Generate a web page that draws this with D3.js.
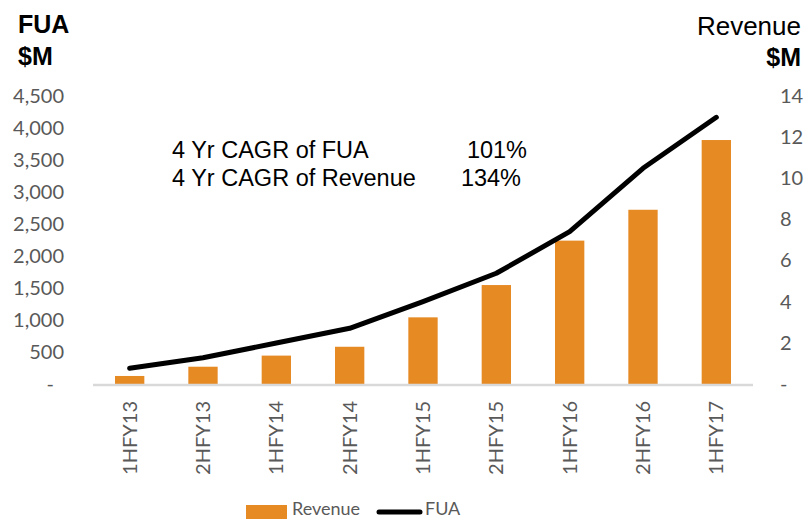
<!DOCTYPE html>
<html>
<head>
<meta charset="utf-8">
<script src="https://cdn.jsdelivr.net/npm/d3@7"></script>
<style>
  body { margin: 0; background: #fff; }
  svg { display: block; }
</style>
</head>
<body>
<div class="chart-container"></div>
<script>
// Half-year periods
const periods = ["1HFY13", "2HFY13", "1HFY14", "2HFY14", "1HFY15", "2HFY15", "1HFY16", "2HFY16", "1HFY17"];
// Revenue ($M, right axis) - bars
const revenue = [0.39, 0.84, 1.38, 1.81, 3.24, 4.81, 6.97, 8.47, 11.86];
// FUA ($M, left axis) - line
const fua = [245, 411, 640, 870, 1286, 1730, 2380, 3370, 4167];
// Axis ticks
const fuaTicks = [0, 500, 1000, 1500, 2000, 2500, 3000, 3500, 4000, 4500];
const revTicks = [0, 2, 4, 6, 8, 10, 12, 14];
// Annotation
const cagrLabels = ["4 Yr CAGR of FUA", "4 Yr CAGR of Revenue"];
const cagrValues = ["101%", "134%"];

const W = 807, H = 521;
const plot = { left: 93, right: 753, top: 96, bottom: 384 };
const orange = "#e68a24";
const tickColor = "#595959";
const tickFont = "Lato, 'Open Sans', sans-serif";

const svg = d3.select(".chart-container")
  .append("svg")
    .attr("width", W)
    .attr("height", H)
    .style("font-family", "'Liberation Sans', Arial, sans-serif");

const x = d3.scaleBand()
  .domain(periods)
  .range([plot.left, plot.right])
  .paddingInner(0.6)
  .paddingOuter(0.3);
const yL = d3.scaleLinear().domain([0, 4500]).range([plot.bottom, plot.top]);
const yR = d3.scaleLinear().domain([0, 14]).range([plot.bottom, plot.top]);

const fmtL = d => d === 0 ? "-" : d3.format(",")(d);
const fmtR = d => d === 0 ? "-" : d;

// left axis
const gL = svg.append("g")
  .attr("transform", `translate(${plot.left - 29},0)`)
  .call(d3.axisLeft(yL).tickValues(fuaTicks).tickSize(0).tickPadding(0).tickFormat(fmtL));
gL.select(".domain").remove();
gL.selectAll("text")
  .attr("fill", tickColor)
  .attr("font-family", tickFont)
  .attr("font-size", 20)
  .attr("x", d => d === 0 ? -10 : 0);

// right axis
const gR = svg.append("g")
  .attr("transform", `translate(${plot.right + 27},0)`)
  .call(d3.axisRight(yR).tickValues(revTicks).tickSize(0).tickPadding(0).tickFormat(fmtR));
gR.select(".domain").remove();
gR.selectAll("text")
  .attr("fill", tickColor)
  .attr("font-family", tickFont)
  .attr("font-size", 20);

// bars
svg.append("g")
  .selectAll("rect")
  .data(periods)
  .join("rect")
    .attr("x", d => x(d))
    .attr("y", (d, i) => yR(revenue[i]))
    .attr("width", x.bandwidth())
    .attr("height", (d, i) => yR(0) - yR(revenue[i]))
    .attr("fill", orange);

// baseline
svg.append("line")
  .attr("x1", plot.left).attr("x2", plot.right)
  .attr("y1", plot.bottom + 1).attr("y2", plot.bottom + 1)
  .attr("stroke", "#d9d9d9")
  .attr("stroke-width", 2.5);

// x axis labels
const gX = svg.append("g")
  .attr("transform", `translate(0,${plot.bottom})`)
  .call(d3.axisBottom(x).tickSize(0).tickPadding(0));
gX.select(".domain").remove();
gX.selectAll("text")
  .attr("fill", tickColor)
  .attr("font-family", tickFont)
  .attr("font-size", 20)
  .attr("transform", "rotate(-90)")
  .attr("text-anchor", "end")
  .attr("x", -17)
  .attr("y", 0)
  .attr("dy", "0.35em");

// FUA line
const line = d3.line()
  .x((d, i) => x(periods[i]) + x.bandwidth() / 2)
  .y(d => yL(d));
svg.append("path")
  .datum(fua)
  .attr("d", line)
  .attr("fill", "none")
  .attr("stroke", "#000")
  .attr("stroke-width", 5)
  .attr("stroke-linejoin", "round")
  .attr("stroke-linecap", "round");

// axis titles
svg.append("text").attr("x", 18).attr("y", 33)
  .attr("font-size", 25).attr("font-weight", "bold").text("FUA");
svg.append("text").attr("x", 18).attr("y", 65)
  .attr("font-size", 25).attr("font-weight", "bold").text("$M");
svg.append("text").attr("x", 801).attr("y", 35).attr("text-anchor", "end")
  .attr("font-size", 26).text("Revenue");
svg.append("text").attr("x", 801).attr("y", 66).attr("text-anchor", "end")
  .attr("font-size", 25).attr("font-weight", "bold").text("$M");

// CAGR annotation
const ann = svg.append("g").attr("font-size", 23.5);
cagrLabels.forEach((t, i) => {
  ann.append("text").attr("x", 172).attr("y", 158 + i * 28).text(t);
});
cagrValues.forEach((t, i) => {
  ann.append("text").attr("x", i === 0 ? 527 : 521).attr("y", 158 + i * 28)
    .attr("text-anchor", "end").text(t);
});

// legend
const lg = svg.append("g").attr("font-family", tickFont).attr("font-size", 18).attr("fill", tickColor);
lg.append("rect").attr("x", 246).attr("y", 505).attr("width", 41).attr("height", 14).attr("fill", orange);
lg.append("text").attr("x", 292).attr("y", 515).text("Revenue");
lg.append("line").attr("x1", 379).attr("x2", 420).attr("y1", 512).attr("y2", 512)
  .attr("stroke", "#000").attr("stroke-width", 5).attr("stroke-linecap", "round");
lg.append("text").attr("x", 425).attr("y", 515).text("FUA");
</script>
</body>
</html>
